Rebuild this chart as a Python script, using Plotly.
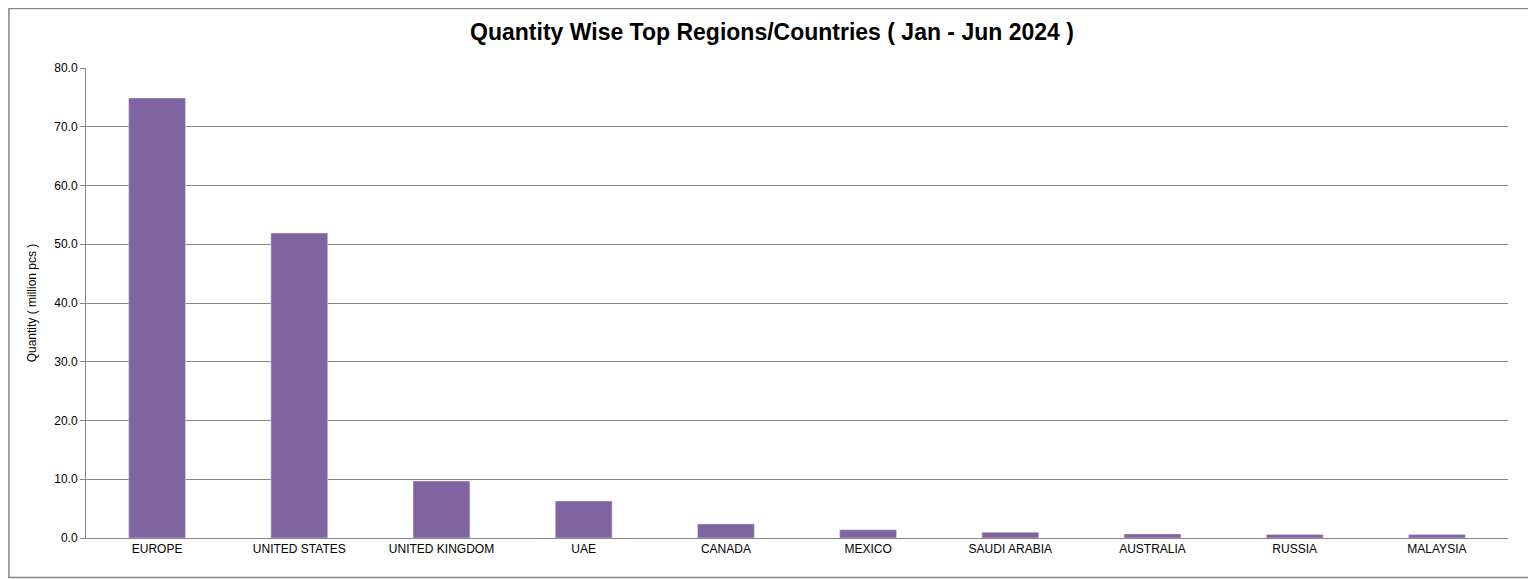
import plotly.graph_objects as go

countries = ["EUROPE", "UNITED STATES", "UNITED KINGDOM", "UAE", "CANADA",
             "MEXICO", "SAUDI ARABIA", "AUSTRALIA", "RUSSIA", "MALAYSIA"]
quantity = [74.9, 51.9, 9.7, 6.3, 2.4, 1.4, 1.0, 0.7, 0.6, 0.6]
y_ticks = [0, 10, 20, 30, 40, 50, 60, 70, 80]

fig = go.Figure(go.Bar(x=countries, y=quantity, marker_color="#8064A2"))

fig.update_layout(
    width=1528, height=571,
    paper_bgcolor="white", plot_bgcolor="white",
    font=dict(family="Liberation Sans, Arial", size=12, color="black"),
    title=dict(text="<b>Quantity Wise Top Regions/Countries ( Jan - Jun 2024 )</b>",
               x=0.5, y=0.958, xanchor="center", yanchor="middle",
               font=dict(size=23)),
    margin=dict(l=78, r=28, t=60, b=41),
    bargap=0.6,
    showlegend=False,
    # light grey frame around the whole chart
    shapes=[dict(type="rect", xref="paper", yref="paper", x0=-0.0542, x1=1.0183,
                 y0=-0.0840, y1=1.1266, line=dict(color="#868686", width=1.5))],
)
fig.update_yaxes(range=[0, 80], tickvals=y_ticks, tickformat=".1f",
                 showgrid=True, gridcolor="#868686", gridwidth=1,
                 showline=True, linecolor="#868686", ticks="outside",
                 tickcolor="#868686", ticklen=5,
                 title=dict(text="Quantity ( million pcs )", font=dict(size=12)))
fig.update_xaxes(showline=True, linecolor="#868686", tickfont=dict(size=12))

fig.write_html("out.html")
